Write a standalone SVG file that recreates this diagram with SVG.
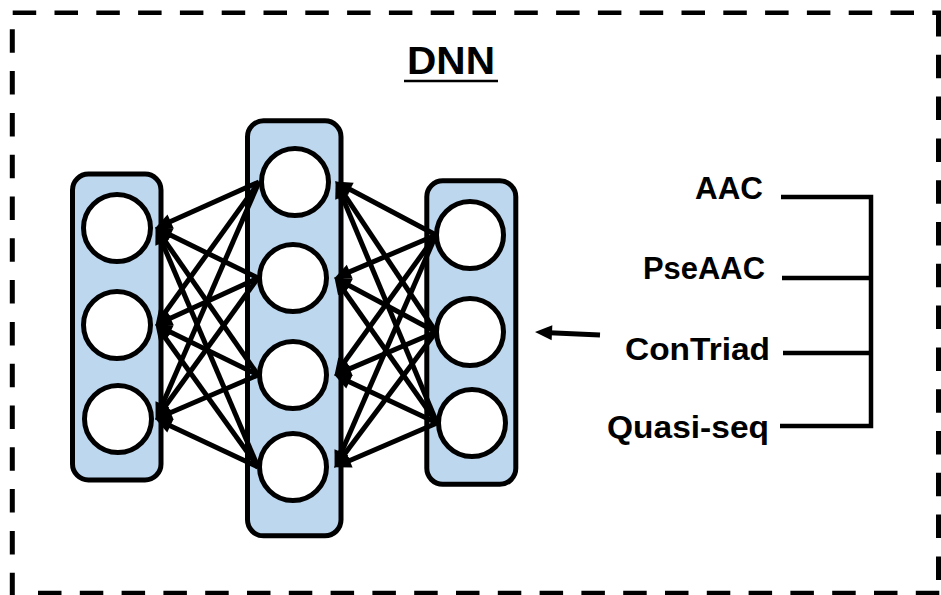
<svg xmlns="http://www.w3.org/2000/svg" width="941" height="595" viewBox="0 0 941 595">
  <style>
    .frame { fill: none; stroke: #000; stroke-dasharray: 23.5 18.3; }
    .layer { fill: #BDD7EE; stroke: #000; stroke-width: 5; }
    .unit { fill: #fff; stroke: #000; stroke-width: 5; }
    .edge { fill: none; stroke: #000; stroke-width: 5; marker-end: url(#ah); }
    .bus { fill: none; stroke: #000; stroke-width: 4.5; }
    .lbl { font-family: "Liberation Sans", Arial, sans-serif; font-weight: bold; font-size: 32px; fill: #000; }
    .title { font-family: "Liberation Sans", Arial, sans-serif; font-weight: bold; font-size: 39px; fill: #000; }
  </style>
  <defs>
    <marker id="ah" markerUnits="userSpaceOnUse" markerWidth="19" markerHeight="18" viewBox="0 -9 18 18" refX="8" refY="0" orient="auto">
      <path d="M0,-7.5 L17,0 L0,7.5 z" fill="#000"/>
    </marker>
  </defs>
  <rect width="941" height="595" fill="#fff"/>

  <!-- dashed outer frame -->
  <g id="frame">
    <line class="frame" x1="12.7" y1="12.7" x2="941" y2="12.7" stroke-width="4.5"/>
    <line class="frame" x1="12.3" y1="29.3" x2="12.3" y2="597" stroke-width="5"/>
    <line class="frame" x1="938.5" y1="13" x2="938.5" y2="597" stroke-width="5"/>
    <line class="frame" x1="38" y1="593" x2="941" y2="593" stroke-width="4.5"/>
  </g>

  <!-- title -->
  <g id="title">
    <text class="title" x="407" y="74" textLength="88" lengthAdjust="spacingAndGlyphs">DNN</text>
    <line x1="404" y1="81" x2="498" y2="81" stroke="#000" stroke-width="2.5"/>
  </g>

  <!-- output layer -->
  <g id="layer-out">
    <rect class="layer" x="72.5" y="174" width="88.5" height="306" rx="16"/>
    <circle class="unit" cx="117" cy="228" r="33.5"/>
    <circle class="unit" cx="117" cy="325" r="33.5"/>
    <circle class="unit" cx="118" cy="419" r="33.5"/>
  </g>

  <!-- hidden layer -->
  <g id="layer-hidden">
    <rect class="layer" x="247.5" y="120.8" width="93.5" height="415" rx="16"/>
    <circle class="unit" cx="295" cy="182" r="33.5"/>
    <circle class="unit" cx="293" cy="278" r="33.5"/>
    <circle class="unit" cx="293" cy="375" r="33.5"/>
    <circle class="unit" cx="293" cy="467" r="33.5"/>
  </g>

  <!-- input layer -->
  <g id="layer-in">
    <rect class="layer" x="426.8" y="180.8" width="89" height="303.5" rx="16"/>
    <circle class="unit" cx="470" cy="235" r="33.5"/>
    <circle class="unit" cx="470" cy="332" r="33.5"/>
    <circle class="unit" cx="472" cy="423" r="33.5"/>
  </g>

  <!-- weighted connections -->
  <g id="connectors">
    <!-- hidden -> output -->
    <line class="edge" x1="259" y1="182" x2="163.3" y2="224.7"/>
    <line class="edge" x1="259" y1="182" x2="160.7" y2="318.5"/>
    <line class="edge" x1="259" y1="182" x2="159.2" y2="411.7"/>
    <line class="edge" x1="258" y1="278" x2="163.2" y2="231.5"/>
    <line class="edge" x1="258" y1="278" x2="163.3" y2="321.6"/>
    <line class="edge" x1="258" y1="278" x2="160.7" y2="412.5"/>
    <line class="edge" x1="258" y1="375" x2="160.6" y2="234.6"/>
    <line class="edge" x1="258" y1="375" x2="163.2" y2="328.5"/>
    <line class="edge" x1="258" y1="375" x2="163.3" y2="415.8"/>
    <line class="edge" x1="258" y1="467" x2="159.1" y2="235.4"/>
    <line class="edge" x1="258" y1="467" x2="160.7" y2="331.5"/>
    <line class="edge" x1="258" y1="467" x2="163.2" y2="422.4"/>
    <!-- input -> hidden -->
    <line class="edge" x1="436" y1="235" x2="343.1" y2="185.7"/>
    <line class="edge" x1="436" y1="235" x2="342.4" y2="274.9"/>
    <line class="edge" x1="436" y1="235" x2="339.7" y2="368.5"/>
    <line class="edge" x1="436" y1="235" x2="338.2" y2="459.7"/>
    <line class="edge" x1="436" y1="332" x2="340.4" y2="188.7"/>
    <line class="edge" x1="436" y1="332" x2="342.1" y2="281.8"/>
    <line class="edge" x1="436" y1="332" x2="342.4" y2="371.9"/>
    <line class="edge" x1="436" y1="332" x2="339.8" y2="460.6"/>
    <line class="edge" x1="437" y1="423" x2="339.1" y2="189.4"/>
    <line class="edge" x1="437" y1="423" x2="339.6" y2="284.5"/>
    <line class="edge" x1="437" y1="423" x2="342.2" y2="378.4"/>
    <line class="edge" x1="437" y1="423" x2="342.3" y2="463.8"/>
    <!-- features -> input layer -->
    <line class="edge" x1="600" y1="335" x2="544" y2="332.4"/>
    <!-- feature bracket -->
    <path class="bus" d="M781,197 H871 V426 H780"/>
    <path class="bus" d="M782,278 H871"/>
    <path class="bus" d="M783,353 H873"/>
  </g>

  <!-- feature encodings -->
  <g id="features">
    <text class="lbl" x="695" y="199" textLength="68" lengthAdjust="spacingAndGlyphs">AAC</text>
    <text class="lbl" x="643" y="279" textLength="122" lengthAdjust="spacingAndGlyphs">PseAAC</text>
    <text class="lbl" x="625" y="360" textLength="145" lengthAdjust="spacingAndGlyphs">ConTriad</text>
    <text class="lbl" x="607" y="438" textLength="162" lengthAdjust="spacingAndGlyphs">Quasi-seq</text>
  </g>
</svg>
